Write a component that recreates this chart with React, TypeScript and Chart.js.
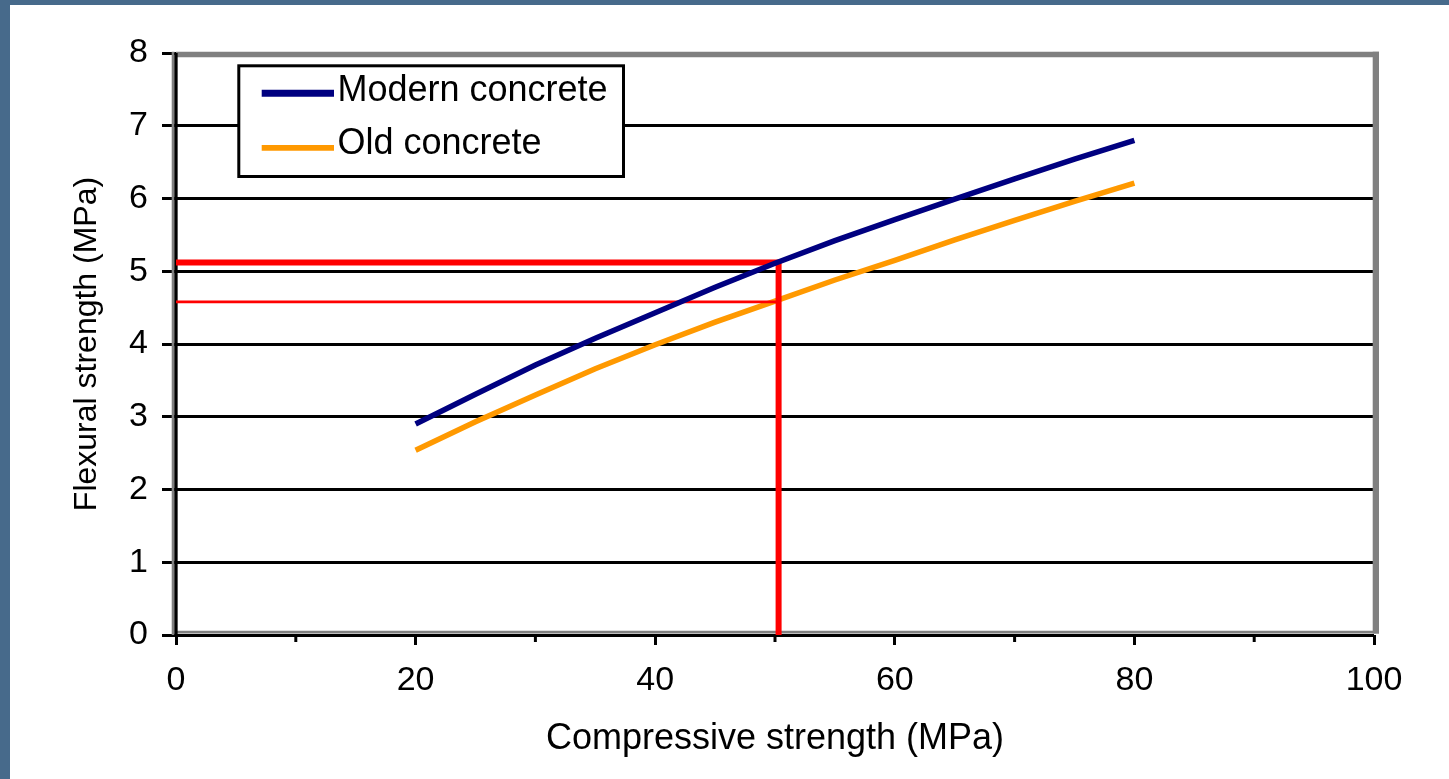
import React, { useEffect, useRef } from 'react';
import { Chart, registerables } from 'chart.js';

Chart.register(...registerables);

// ---- data ----
const compressiveStrength = [20, 25, 30, 35, 40, 45, 50, 55, 60, 65, 70, 75, 80];
const modernFlexural = [2.90, 3.31, 3.71, 4.08, 4.43, 4.78, 5.11, 5.42, 5.71, 5.99, 6.27, 6.54, 6.80];
const oldFlexural = [2.54, 2.93, 3.30, 3.66, 3.99, 4.30, 4.59, 4.88, 5.15, 5.43, 5.70, 5.96, 6.21];
const seriesLabels = ['Modern concrete', 'Old concrete'];
const refCompressive = 50.3;
const refModern = 5.12;
const refOld = 4.58;
const xTickLabels = ['0', '20', '40', '60', '80', '100'];
const xMinorTicks = [10, 30, 50, 70, 90];
const yTickLabels = ['0', '1', '2', '3', '4', '5', '6', '7', '8'];
const xTitle = 'Compressive strength (MPa)';
const yTitle = 'Flexural strength (MPa)';

const FONT = "'Liberation Sans', Arial, sans-serif";
const NAVY = '#000080';
const ORANGE = '#FF9900';
const RED = '#FF0000';
const GRAY = '#808080';

const framePlugin = {
  id: 'frame',
  beforeDatasetsDraw(chart: any) {
    const { ctx, chartArea: a } = chart;
    ctx.save();
    ctx.lineCap = 'butt';
    ctx.strokeStyle = GRAY;
    const line = (x1: number, y1: number, x2: number, y2: number, w: number) => {
      ctx.lineWidth = w;
      ctx.beginPath();
      ctx.moveTo(x1, y1);
      ctx.lineTo(x2, y2);
      ctx.stroke();
    };
    // gray plot frame
    line(a.left, a.top + 1.5, a.right + 5, a.top + 1.5, 5.6);
    line(a.right + 1.85, a.top - 1.3, a.right + 1.85, a.bottom - 1.5, 6.3);
    line(a.left - 2.9, a.top - 1.3, a.left - 2.9, a.bottom, 2.8);
    line(a.left, a.bottom - 2.85, a.right + 5, a.bottom - 2.85, 2.6);
    // black axes
    ctx.strokeStyle = '#000';
    line(a.left, a.top, a.left, a.bottom + 1.5, 3.3);
    // minor x ticks
    const xs = chart.scales.x;
    xMinorTicks.forEach((v) => {
      const px = xs.getPixelForValue(v);
      line(px, a.bottom, px, a.bottom + 7, 3);
    });
    ctx.restore();
  },
  afterDraw(chart: any) {
    const { ctx, chartArea: a } = chart;
    ctx.save();
    const bx = a.left + 62.8;
    const by = a.top + 12.8;
    const bw = 384.7;
    const bh = 110.7;
    ctx.fillStyle = '#fff';
    ctx.fillRect(bx, by, bw, bh);
    ctx.strokeStyle = '#000';
    ctx.lineWidth = 3;
    ctx.strokeRect(bx, by, bw, bh);
    const items = [
      { ds: chart.data.datasets[0], y: a.top + 40.3, w: 7, ty: a.top + 47.7 },
      { ds: chart.data.datasets[1], y: a.top + 94.8, w: 5.7, ty: a.top + 101 },
    ];
    items.forEach((it) => {
      ctx.strokeStyle = it.ds.borderColor;
      ctx.lineWidth = it.w;
      ctx.lineCap = 'butt';
      ctx.beginPath();
      ctx.moveTo(a.left + 85.7, it.y);
      ctx.lineTo(a.left + 158, it.y);
      ctx.stroke();
      ctx.fillStyle = '#000';
      ctx.font = `36px ${FONT}`;
      ctx.textBaseline = 'alphabetic';
      ctx.textAlign = 'left';
      ctx.fillText(it.ds.label, a.left + 161.5, it.ty);
    });
    ctx.restore();
  },
};

export default function App() {
  const ref = useRef<HTMLCanvasElement>(null);

  useEffect(() => {
    const canvas = ref.current;
    if (!canvas) return;
    const chart = new Chart(canvas, {
      type: 'line',
      data: {
        datasets: [
          {
            label: seriesLabels[0],
            data: compressiveStrength.map((x, i) => ({ x, y: modernFlexural[i] })),
            borderColor: NAVY,
            backgroundColor: NAVY,
            borderWidth: 5.5,
            pointRadius: 0,
            tension: 0,
            order: 0,
          },
          {
            label: seriesLabels[1],
            data: compressiveStrength.map((x, i) => ({ x, y: oldFlexural[i] })),
            borderColor: ORANGE,
            backgroundColor: ORANGE,
            borderWidth: 5.5,
            pointRadius: 0,
            tension: 0,
            order: 2,
          },
          {
            label: 'ref-modern',
            data: [
              { x: 0, y: refModern },
              { x: refCompressive, y: refModern },
              { x: refCompressive, y: 0 },
            ],
            borderColor: RED,
            borderWidth: 6,
            borderJoinStyle: 'miter',
            pointRadius: 0,
            tension: 0,
            order: 1,
          },
          {
            label: 'ref-old',
            data: [
              { x: 0, y: refOld },
              { x: refCompressive, y: refOld },
            ],
            borderColor: RED,
            borderWidth: 2.8,
            pointRadius: 0,
            tension: 0,
            order: 1,
          },
        ],
      },
      options: {
        responsive: false,
        animation: false,
        devicePixelRatio: 1,
        layout: { padding: { top: 48, right: 75, left: 0, bottom: 0 } },
        plugins: {
          legend: { display: false },
          tooltip: { enabled: false },
        },
        scales: {
          x: {
            type: 'linear',
            min: 0,
            max: 100,
            afterFit: (s: any) => {
              s.height = 144;
            },
            border: { display: false },
            grid: {
              drawOnChartArea: false,
              drawTicks: true,
              tickLength: 10,
              color: '#000',
              lineWidth: 3,
            },
            ticks: {
              stepSize: 20,
              autoSkip: false,
              maxRotation: 0,
              padding: 15,
              color: '#000',
              font: { family: FONT, size: 34 },
              callback: (_v: any, i: number) => xTickLabels[i] ?? '',
            },
            title: {
              display: true,
              text: xTitle,
              color: '#000',
              font: { family: FONT, size: 36 },
              padding: { top: 0, bottom: 18.4 },
            },
          },
          y: {
            type: 'linear',
            min: 0,
            max: 8,
            afterFit: (s: any) => {
              s.width = 166;
            },
            border: { display: false },
            grid: {
              drawOnChartArea: true,
              drawTicks: true,
              tickLength: 14,
              color: '#000',
              lineWidth: 3,
            },
            ticks: {
              stepSize: 1,
              autoSkip: false,
              padding: 14,
              color: '#000',
              font: { family: FONT, size: 34 },
              callback: (_v: any, i: number) => yTickLabels[i] ?? '',
            },
            title: {
              display: true,
              text: yTitle,
              color: '#000',
              font: { family: FONT, size: 32 },
              padding: { top: 57.5, bottom: 0 },
            },
          },
        },
      },
      plugins: [framePlugin],
    } as any);
    return () => chart.destroy();
  }, []);

  return (
    <div
      style={{
        position: 'fixed',
        left: 0,
        top: 0,
        width: 1449,
        height: 779,
        background: '#476a8b',
      }}
    >
      <div
        style={{
          position: 'absolute',
          left: 10,
          top: 5,
          width: 1439,
          height: 774,
          background: '#ffffff',
        }}
      >
        <canvas
          ref={ref}
          width={1439}
          height={774}
          style={{ display: 'block', width: 1439, height: 774 }}
        />
      </div>
    </div>
  );
}
